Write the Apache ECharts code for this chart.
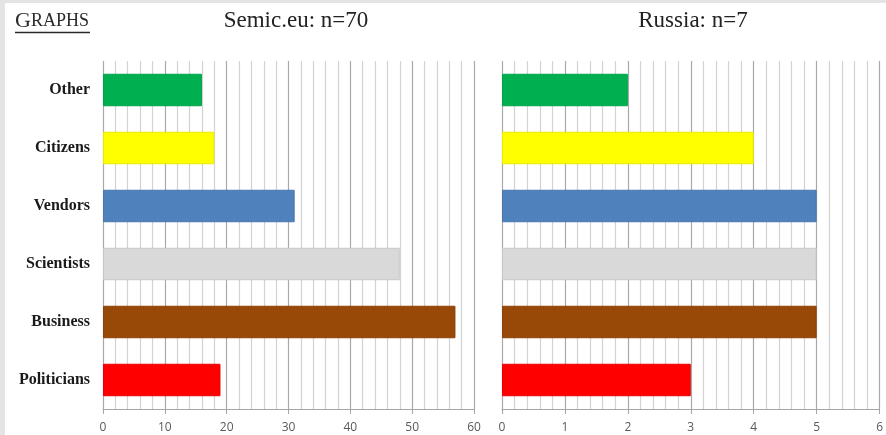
<!DOCTYPE html>
<html>
<head>
<meta charset="utf-8">
<script src="https://cdn.jsdelivr.net/npm/echarts@6/dist/echarts.min.js"></script>
<style>
  html, body { margin: 0; padding: 0; background: #ffffff; }
  #chart { width: 886px; height: 435px; }
</style>
</head>
<body>
<div id="chart"></div>
<script>
// Stakeholder groups, listed bottom-to-top on the category axis
const categories = ['Politicians', 'Business', 'Scientists', 'Vendors', 'Citizens', 'Other'];
const barColors = ['#FF0000', '#984807', '#D9D9D9', '#4F81BD', '#FFFF00', '#00B050'];
const semicValues = [19, 57, 48, 31, 18, 16];
const russiaValues = [3, 5, 5, 5, 4, 2];
const semicTitle = 'Semic.eu: n=70';
const russiaTitle = 'Russia: n=7';

const chart = echarts.init(document.getElementById('chart'), null, { renderer: 'canvas' });

function darken(hex, f) {
  const n = parseInt(hex.slice(1), 16);
  const r = Math.round(((n >> 16) & 255) * f);
  const g = Math.round(((n >> 8) & 255) * f);
  const b = Math.round((n & 255) * f);
  return 'rgb(' + r + ',' + g + ',' + b + ')';
}

function valueAxis(gridIndex, max, interval) {
  return {
    type: 'value',
    gridIndex: gridIndex,
    min: 0,
    max: max,
    interval: interval,
    axisLine: { show: true, lineStyle: { color: '#a6a6a6', width: 1 } },
    axisTick: { show: true, length: 5, lineStyle: { color: '#a6a6a6' } },
    minorTick: { show: false, splitNumber: 5 },
    axisLabel: {
      color: '#595959',
      fontFamily: 'Open Sans',
      fontSize: 12,
      margin: 13
    },
    splitLine: { show: true, lineStyle: { color: '#a9a9a9', width: 1.2 } },
    minorSplitLine: { show: true, lineStyle: { color: '#d2d2d2', width: 1.2 } }
  };
}

function categoryAxis(gridIndex, showLabels) {
  return {
    type: 'category',
    gridIndex: gridIndex,
    data: categories,
    axisLine: { show: false },
    axisTick: { show: false },
    axisLabel: {
      show: showLabels,
      color: '#1a1a1a',
      fontFamily: 'Liberation Serif',
      fontWeight: 'bold',
      fontSize: 16,
      margin: 13
    }
  };
}

function barSeries(idx, values) {
  return {
    type: 'bar',
    xAxisIndex: idx,
    yAxisIndex: idx,
    barWidth: '56%',
    data: values.map((v, i) => ({
      value: v,
      itemStyle: {
        color: barColors[i],
        borderColor: darken(barColors[i], 0.92),
        borderWidth: 1
      }
    })),
    animation: false
  };
}

chart.setOption({
  animation: false,
  backgroundColor: '#ffffff',
  grid: [
    { left: 103, top: 61, width: 371, height: 348 },
    { left: 502, top: 61, width: 380, height: 348 }
  ],
  xAxis: [valueAxis(0, 60, 10), valueAxis(1, 6, 1)],
  yAxis: [categoryAxis(0, true), categoryAxis(1, false)],
  series: [barSeries(0, semicValues), barSeries(1, russiaValues)],
  graphic: [
    // slide frame along the top and left edges
    { type: 'rect', left: 0, top: 0, shape: { width: 886, height: 3 }, style: { fill: '#e4e4e4' }, z: 100 },
    { type: 'rect', left: 0, top: 0, shape: { width: 5, height: 435 }, style: { fill: '#e4e4e4' }, z: 100 },
    {
      type: 'text',
      x: 15, y: 32,
      style: {
        text: '{a|G}{b|RAPHS}',
        rich: {
          a: { fontFamily: 'Liberation Serif', fontSize: 22, fill: '#2a2a2a' },
          b: { fontFamily: 'Liberation Serif', fontSize: 18, fill: '#2a2a2a' }
        },
        verticalAlign: 'bottom',
        align: 'left'
      },
      z: 100
    },
    { type: 'line', shape: { x1: 15, y1: 32.5, x2: 90, y2: 32.5 }, style: { stroke: '#2a2a2a', lineWidth: 1.5 }, z: 100 },
    {
      type: 'text',
      x: 296, y: 21,
      style: {
        text: semicTitle,
        fontFamily: 'Liberation Serif',
        fontSize: 23,
        fill: '#222222',
        align: 'center',
        verticalAlign: 'middle'
      },
      z: 100
    },
    {
      type: 'text',
      x: 693, y: 21,
      style: {
        text: russiaTitle,
        fontFamily: 'Liberation Serif',
        fontSize: 23,
        fill: '#222222',
        align: 'center',
        verticalAlign: 'middle'
      },
      z: 100
    }
  ]
});
</script>
</body>
</html>
